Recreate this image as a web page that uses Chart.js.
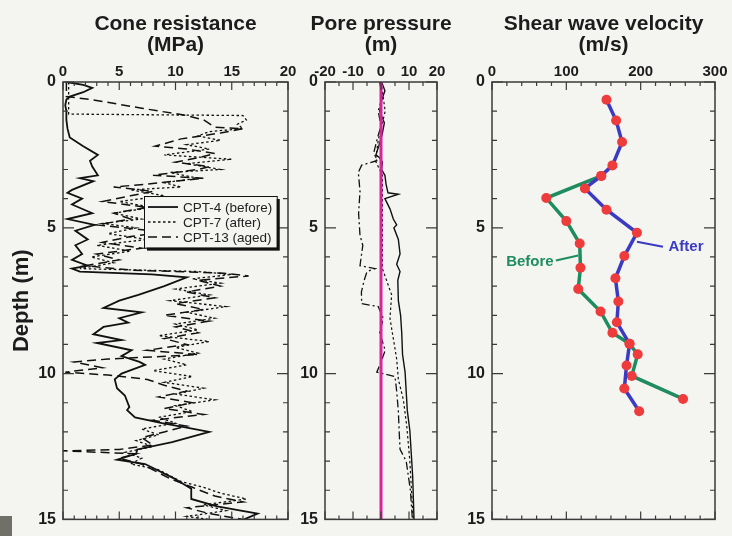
<!DOCTYPE html>
<html>
<head>
<meta charset="utf-8">
<script src="https://cdn.jsdelivr.net/npm/chart.js@4.4.1/dist/chart.umd.min.js"></script>
<style>
  html, body { margin: 0; padding: 0; background: #f4f4f1; overflow: hidden; }
  #wrap { position: relative; width: 732px; height: 536px; overflow: hidden; }
  canvas { position: absolute; top: 0; }
  #corner { position: absolute; left: 0; top: 516px; width: 12px; height: 20px; background: #707068; }
</style>
</head>
<body>
<div id="wrap">
  <canvas id="cone" width="351" height="536" style="left:0"></canvas>
  <canvas id="pore" width="172" height="536" style="left:295px"></canvas>
  <canvas id="vs" width="283" height="536" style="left:462px"></canvas>
  <div id="corner"></div>
</div>
<script>
// cone resistance (MPa) against depth (m)
const coneDepth4 = [0, 0.1, 0.2, 0.35, 0.5, 0.6, 0.8, 1.0, 1.3, 1.6, 1.9, 2.2, 2.5, 2.7, 2.9, 3.2, 3.3, 3.4, 3.7, 3.8, 4.0, 4.2, 4.5, 4.7, 4.9, 5.1, 5.4, 5.6, 5.9, 6.1, 6.3, 6.4, 6.5, 6.6, 6.7, 7.0, 7.3, 7.5, 7.75, 7.9, 8.1, 8.25, 8.4, 8.65, 8.85, 8.95, 9.2, 9.4, 9.6, 9.7, 10.0, 10.2, 10.5, 10.75, 11.15, 11.25, 11.5, 11.7, 11.85, 12.0, 12.35, 12.6, 12.75, 12.95, 13.1, 13.6, 13.95, 14.3, 14.55, 14.8, 15.0];
const cone4 = [0.3, 1.8, 2.6, 1.8, 0.6, 0.3, 0.2, 0.3, 0.3, 0.4, 0.6, 1.8, 3.1, 2.4, 2.6, 3.1, 1.5, 2.7, 0.8, 0.4, 1.7, 0.8, 2.6, 0.4, 2.8, 1.1, 2.2, 1.1, 1.7, 0.8, 2.2, 0.8, 1.5, 7.9, 11, 9, 6.7, 5.0, 3.6, 7, 5, 5.8, 3.6, 2.7, 5.2, 3, 6.1, 5.2, 6.8, 7.3, 5.2, 4.6, 4.8, 5.5, 5.9, 5.7, 6.4, 8.8, 11, 13, 9.7, 6.6, 6.5, 4.8, 7.3, 9.9, 11.4, 11.4, 13.7, 17.3, 16.1];
const coneDepth7 = [0, 1.1, 1.15, 1.3, 1.45, 1.6, 1.7, 1.85, 2.0, 2.15, 2.3, 2.5, 2.65, 2.8, 3.0, 3.1, 3.3, 3.45, 3.6, 3.7, 3.9, 4.1, 4.3, 4.5, 4.7, 4.85, 5.0, 5.2, 5.4, 5.6, 5.8, 6.0, 6.2, 6.4, 6.5, 6.6, 6.75, 6.9, 7.1, 7.3, 7.5, 7.7, 7.9, 8.1, 8.3, 8.5, 8.7, 8.9, 9.1, 9.3, 9.5, 9.7, 9.9, 10.1, 10.3, 10.5, 10.7, 10.9, 11.1, 11.3, 11.5, 11.7, 11.9, 12.1, 12.3, 12.5, 12.7, 12.9, 13.1, 13.3, 13.5, 13.7, 13.9, 14.1, 14.3, 14.5, 14.7, 14.9, 15.0];
const cone7 = [0.5, 0.5, 16, 16.3, 15.5, 16, 13, 12, 14, 11, 13, 9, 15, 11, 14, 9.5, 12, 9, 10.5, 6, 9, 5, 8, 4.5, 7, 3.5, 6.5, 4, 7.5, 3, 6, 2.5, 4.5, 1.5, 12, 15, 11.5, 14, 10, 13, 9.5, 14.5, 11, 13.5, 10, 12, 8.5, 13, 10, 12, 9, 11, 8, 11.5, 9, 12.5, 10, 13.5, 10, 11.5, 8.5, 10, 7, 8.5, 6.5, 8, 5.5, 7, 6, 8.5, 9.5, 10.5, 12.5, 14, 16.3, 12.5, 14.5, 11, 13];
const coneDepth13 = [0, 0.5, 0.6, 0.9, 1.15, 1.3, 1.55, 1.6, 1.75, 1.95, 2.2, 2.3, 2.45, 2.6, 2.75, 2.9, 3.0, 3.2, 3.3, 3.5, 3.6, 3.75, 3.9, 4.1, 4.3, 4.5, 4.7, 4.9, 5.0, 5.15, 5.3, 5.5, 5.7, 5.9, 6.1, 6.3, 6.45, 6.55, 6.65, 6.8, 7.0, 7.2, 7.4, 7.6, 7.8, 8.0, 8.2, 8.4, 8.6, 8.8, 9.0, 9.2, 9.35, 9.5, 9.6, 9.8, 9.95, 10.05, 10.2, 10.4, 10.6, 10.8, 11.0, 11.2, 11.4, 11.6, 11.8, 12.0, 12.2, 12.45, 12.6, 12.65, 12.75, 12.9, 13.1, 13.3, 13.6, 13.9, 14.2, 14.4, 14.6, 14.8, 15.0];
const cone13 = [0.3, 0.3, 2.5, 7, 11, 12.5, 13.5, 16, 14, 10.5, 8.2, 11, 13.5, 12, 10, 13, 12, 8, 12.5, 7.5, 4.5, 8, 6, 3.5, 7.5, 4.5, 6, 3, 5.5, 9, 6, 3.5, 7, 3, 5, 2, 6, 14, 16.5, 12, 14, 11, 13.5, 10, 12.5, 9, 13, 10, 12, 9, 11, 7.5, 12, 4, 1, 3.5, 0.2, 4, 7.5, 9, 11, 8.5, 11.5, 9, 12.5, 8, 11, 9, 7, 8, 5, 0, 6.5, 5, 7, 8, 9.5, 11.5, 13.5, 16, 11, 13, 16];

// pore pressure (m) against depth (m)
const hydroDepth = [0, 15];
const hydro = [0, 0];
const poreDepth4 = [0, 0.3, 0.6, 1.0, 1.4, 1.8, 2.2, 2.5, 2.6, 2.75, 3.0, 3.2, 3.5, 3.8, 3.85, 4.0, 4.35, 4.7, 4.9, 5.0, 5.4, 5.9, 6.25, 6.5, 6.8, 7.5, 8.0, 8.6, 9.35, 9.95, 11.27, 11.95, 13.5, 15];
const pore4 = [0.2, 1.4, 0.3, -0.5, 1.2, 0.4, -0.8, -1.8, -0.5, 0.5, 0.2, 1.4, 1.8, 2.5, 6.2, 1.4, 3.2, 4.4, 5.6, 4.6, 6.2, 6.8, 5.6, 6.8, 6.0, 6.2, 7.0, 7.4, 7.7, 8.6, 9.4, 10.3, 11.3, 11.8];
const poreDepth7 = [0, 1.0, 2.0, 2.7, 3.2, 4.0, 5.0, 6.0, 6.4, 7.3, 8.1, 8.8, 9.5, 10.2, 10.9, 11.8, 13.0, 14.7, 15.0];
const pore7 = [0, 1.5, -1, -2, 0.5, 0.5, 0.5, 0.5, 0.5, 3.8, 3.2, 4.4, 5.6, 6.2, 8.0, 9.2, 10.3, 11.3, 11.5];
const poreDepth13 = [0, 0.5, 1.0, 1.5, 2.0, 2.4, 2.7, 2.85, 3.1, 3.75, 4.5, 5.26, 5.6, 6.3, 6.4, 6.5, 6.8, 7.2, 7.6, 7.7, 8.1, 8.6, 9.2, 9.6, 9.95, 10.1, 10.6, 11.3, 12.0, 12.6, 13.0, 14.0, 15.0];
const pore13 = [-0.5, 0.5, -1, 0, -1.5, -2.5, -1.5, -6.9, -8.1, -7.5, -8.0, -7.5, -6.5, -7.5, -2.1, -5, -6, -7, -6.9, -1, 0.8, -0.5, 1.5, 0, -1.5, 5, 5.6, 6.2, 6.5, 6.8, 9, 10.5, 11.2];

// shear wave velocity (m/s) against depth (m)
const vsDepthAfter = [0.61, 1.32, 2.06, 2.86, 3.22, 3.65, 4.38, 5.17, 5.97, 6.73, 7.53, 8.24, 8.98, 9.72, 10.51, 11.29];
const vsAfter = [154, 167, 175, 162, 147, 125, 154, 195, 178, 166, 170, 168, 185, 181, 178, 198];
const vsDepthBefore = [3.22, 3.98, 4.77, 5.54, 6.37, 7.10, 7.87, 8.60, 8.98, 9.34, 10.08, 10.87];
const vsBefore = [147, 73, 100, 118, 119, 116, 146, 162, 185, 196, 188, 257];

const depthTicks = [0, 5, 10, 15];

const family = '"Liberation Sans", Arial, Helvetica, sans-serif';
const ink = '#1c1c1c';
const bg = '#f4f4f1';
const red = '#ee3b3b';
const blue = '#3a3ac2';
const green = '#1e8c5e';

const xy = (xs, ds) => xs.map((v, i) => ({ x: v, y: ds[i] }));

const line = (label, xs, ds, color, width, dash) => ({
  label, data: xy(xs, ds), showLine: true, borderColor: color, borderWidth: width,
  borderDash: dash || [], pointRadius: 0, xAxisID: 'x', yAxisID: 'y'
});

// box with inward ticks on all four sides
const frame = {
  id: 'frame',
  afterDraw(chart, args, o) {
    const { ctx, chartArea: a, scales: { x, y } } = chart;
    const major = (v, m) => Math.abs(Math.round(v / m) * m - v) < 1e-6;
    ctx.save();
    ctx.strokeStyle = '#3a3a3a';
    ctx.lineWidth = 1.5;
    ctx.strokeRect(a.left, a.top, a.right - a.left, a.bottom - a.top);
    ctx.lineWidth = 1.2;
    ctx.beginPath();
    for (let v = x.min; v <= x.max + 1e-6; v += o.xMinor) {
      const px = x.getPixelForValue(v);
      const len = major(v, o.xMajor) ? 8 : 4;
      ctx.moveTo(px, a.top); ctx.lineTo(px, a.top + len);
      ctx.moveTo(px, a.bottom); ctx.lineTo(px, a.bottom - len);
    }
    for (let v = 0; v <= 15; v += 1) {
      const py = y.getPixelForValue(v);
      const len = major(v, 5) ? 11 : 5;
      ctx.moveTo(a.left, py); ctx.lineTo(a.left + len, py);
      ctx.moveTo(a.right, py); ctx.lineTo(a.right - len, py);
    }
    ctx.stroke();
    ctx.restore();
  }
};

// legend box inside the cone resistance panel
const boxLegend = {
  id: 'boxLegend',
  afterDraw(chart, args, o) {
    if (!o.at) return;
    const { ctx, scales: { x, y } } = chart;
    const l = x.getPixelForValue(o.at[0]), t = y.getPixelForValue(o.at[1]);
    const r = x.getPixelForValue(o.at[2]), b = y.getPixelForValue(o.at[3]);
    ctx.save();
    ctx.fillStyle = '#111';
    ctx.fillRect(l + 3, t + 3, r - l, b - t);
    ctx.fillStyle = bg;
    ctx.fillRect(l, t, r - l, b - t);
    ctx.strokeStyle = '#111';
    ctx.lineWidth = 1;
    ctx.strokeRect(l + 0.5, t + 0.5, r - l, b - t);
    ctx.font = '13.5px ' + family;
    ctx.textBaseline = 'middle';
    chart.data.datasets.forEach((ds, i) => {
      const yy = t + 11 + i * 15;
      ctx.strokeStyle = ds.borderColor;
      ctx.lineWidth = ds.borderWidth;
      ctx.setLineDash(ds.borderDash);
      ctx.beginPath();
      ctx.moveTo(l + 4, yy);
      ctx.lineTo(l + 34, yy);
      ctx.stroke();
      ctx.setLineDash([]);
      ctx.fillStyle = '#222';
      ctx.fillText(ds.label, l + 39, yy + 1);
    });
    ctx.restore();
  }
};

// "Before" / "After" labels with leader lines
const notes = {
  id: 'notes',
  afterDraw(chart, args, o) {
    if (!o.items) return;
    const { ctx, scales: { x, y } } = chart;
    ctx.save();
    ctx.font = 'bold 15px ' + family;
    ctx.textAlign = 'center';
    ctx.textBaseline = 'middle';
    o.items.forEach(n => {
      ctx.strokeStyle = n.color;
      ctx.lineWidth = 2;
      ctx.beginPath();
      ctx.moveTo(x.getPixelForValue(n.from[0]), y.getPixelForValue(n.from[1]));
      ctx.lineTo(x.getPixelForValue(n.to[0]), y.getPixelForValue(n.to[1]));
      ctx.stroke();
      ctx.fillStyle = n.color;
      ctx.fillText(n.text, x.getPixelForValue(n.at[0]), y.getPixelForValue(n.at[1]));
    });
    ctx.restore();
  }
};

function panel(id, o) {
  return new Chart(document.getElementById(id), {
    type: 'scatter',
    data: { datasets: o.datasets },
    options: {
      responsive: false,
      animation: false,
      events: [],
      layout: { padding: { top: 0, bottom: 13, left: 0, right: 0 } },
      plugins: {
        legend: { display: false },
        tooltip: { enabled: false },
        title: {
          display: true, text: o.title, color: ink,
          font: { family, size: 21, weight: 'bold', lineHeight: 1 },
          padding: { top: 14, bottom: 0 }
        },
        frame: o.frame,
        boxLegend: o.legend || {},
        notes: o.notes || {}
      },
      scales: {
        x: {
          type: 'linear', position: 'top', min: o.xMin, max: o.xMax,
          grid: { display: false, drawTicks: false }, border: { display: false },
          ticks: { stepSize: o.xStep, color: ink, padding: 1, maxRotation: 0, autoSkip: false,
            font: { family, size: 15, weight: 'bold' } },
          afterFit: s => { s.height = 26; }
        },
        y: {
          type: 'linear', position: 'left', min: 0, max: 15, reverse: true,
          grid: { display: false, drawTicks: false }, border: { display: false },
          afterBuildTicks: s => { s.ticks = depthTicks.map(v => ({ value: v })); },
          ticks: { color: ink, padding: 7, font: { family, size: 16, weight: 'bold' } },
          title: o.yTitle || { display: false },
          afterFit: s => { s.width = o.side; }
        },
        yr: {
          type: 'linear', position: 'right', display: true,
          grid: { display: false, drawTicks: false }, border: { display: false },
          ticks: { display: false },
          afterFit: s => { s.width = o.side; }
        }
      }
    },
    plugins: [frame, boxLegend, notes]
  });
}

panel('cone', {
  title: ['Cone resistance', '(MPa)'],
  xMin: 0, xMax: 20, xStep: 5, side: 63,
  frame: { xMinor: 1, xMajor: 5 },
  yTitle: { display: true, text: 'Depth (m)', color: ink, padding: { top: 9, bottom: 0 },
    font: { family, size: 22, weight: 'bold' } },
  legend: { at: [7.2, 3.91, 19.0, 5.68] },
  datasets: [
    line('CPT-4 (before)', cone4, coneDepth4, '#111', 1.8),
    line('CPT-7 (after)', cone7, coneDepth7, '#111', 1.3, [2.5, 2.5]),
    line('CPT-13 (aged)', cone13, coneDepth13, '#111', 1.5, [9, 5])
  ]
});

panel('pore', {
  title: ['Pore pressure', '(m)'],
  xMin: -20, xMax: 20, xStep: 10, side: 30,
  frame: { xMinor: 5, xMajor: 10 },
  datasets: [
    line('Hydrostatic', hydro, hydroDepth, '#d8239a', 3),
    line('CPT-4 (before)', pore4, poreDepth4, '#111', 1.4),
    line('CPT-7 (after)', pore7, poreDepth7, '#111', 1.2, [2.5, 2.5]),
    line('CPT-13 (aged)', pore13, poreDepth13, '#111', 1.3, [8, 3, 2, 3])
  ]
});

const dots = { pointRadius: 5, pointBackgroundColor: red, pointBorderWidth: 0 };
panel('vs', {
  title: ['Shear wave velocity', '(m/s)'],
  xMin: 0, xMax: 300, xStep: 100, side: 30,
  frame: { xMinor: 20, xMajor: 100 },
  notes: { items: [
    { text: 'Before', color: green, at: [51, 6.16], from: [86, 6.12], to: [116, 5.95] },
    { text: 'After', color: blue, at: [261, 5.65], from: [195, 5.48], to: [230, 5.65] }
  ] },
  datasets: [
    Object.assign(line('After', vsAfter, vsDepthAfter, blue, 3.5), dots),
    Object.assign(line('Before', vsBefore, vsDepthBefore, green, 3.5), dots)
  ]
});
</script>
</body>
</html>
